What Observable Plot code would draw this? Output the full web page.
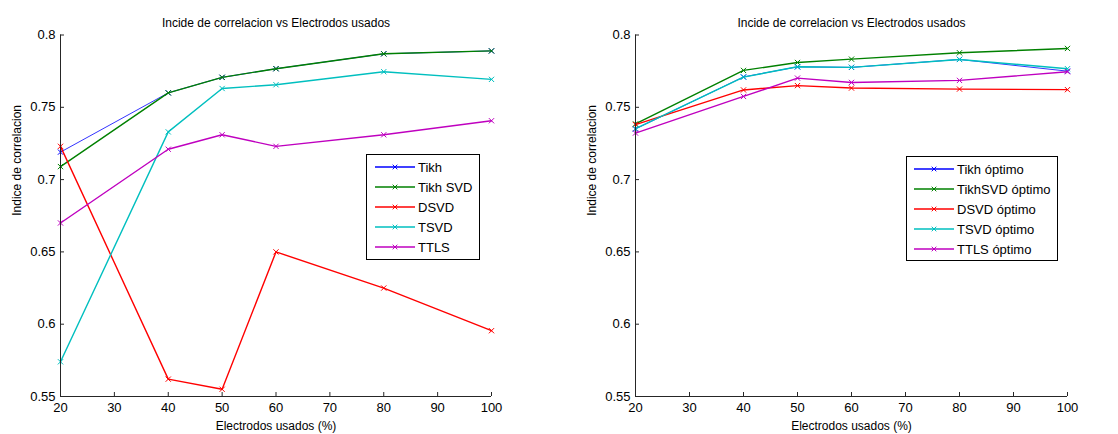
<!DOCTYPE html>
<html><head><meta charset="utf-8">
<script src="https://cdn.jsdelivr.net/npm/d3@7"></script>
<script src="https://cdn.jsdelivr.net/npm/@observablehq/plot@0.6"></script>
<style>
body{margin:0;background:#fff;}
#c{display:flex;width:1118px;height:434px;}
svg{display:block}
</style>
</head><body><div id="c"></div>
<script>
// ---- data ----
const electrodes = [20, 40, 50, 60, 80, 100];
const xTicks = [20, 30, 40, 50, 60, 70, 80, 90, 100];
const yTicks = [0.55, 0.6, 0.65, 0.7, 0.75, 0.8];

const titleText = "Incide de correlacion vs Electrodos usados";
const xLabelText = "Electrodos usados (%)";
const yLabelText = "Indice de correlacion";

// left panel
const leftNames = ["Tikh", "Tikh SVD", "DSVD", "TSVD", "TTLS"];
const tikh    = [0.719, 0.760, 0.7707, 0.7767, 0.787, 0.789];
const tikhSVD = [0.709, 0.760, 0.7707, 0.7767, 0.787, 0.789];
const dsvd    = [0.723, 0.562, 0.555, 0.650, 0.625, 0.5955];
const tsvd    = [0.574, 0.733, 0.763, 0.7656, 0.7746, 0.7693];
const ttls    = [0.670, 0.721, 0.731, 0.723, 0.731, 0.7407];

// right panel
const rightNames = ["Tikh óptimo", "TikhSVD óptimo", "DSVD óptimo", "TSVD óptimo", "TTLS óptimo"];
const tikhOpt    = [0.735, 0.771, 0.778, 0.7776, 0.7831, 0.775];
const tikhSVDOpt = [0.7385, 0.7755, 0.781, 0.7833, 0.7877, 0.7907];
const dsvdOpt    = [0.738, 0.762, 0.765, 0.7633, 0.7626, 0.7622];
const tsvdOpt    = [0.7352, 0.7709, 0.778, 0.7776, 0.7831, 0.7767];
const ttlsOpt    = [0.7322, 0.7575, 0.7702, 0.7672, 0.7686, 0.7746];

const colors = ["#0000ff", "#008000", "#ff0000", "#00bfbf", "#bf00bf"];

function toRows(vals) { return electrodes.map((x, i) => ({x, y: vals[i]})); }

function makePlot(cfg) {
  const W = 559, H = 434, mt = 34.5, mb = 38;
  const ml = cfg.ml, mr = cfg.mr;
  const pw = W - ml - mr, ph = H - mt - mb;
  const axisColor = "#262626";
  const marks = [];
  cfg.series.forEach((vals, i) => {
    const rows = toRows(vals);
    marks.push(Plot.line(rows, {x: "x", y: "y", stroke: colors[i], strokeWidth: i === 0 ? 0.8 : 1.4}));
    marks.push(Plot.dot(rows, {x: "x", y: "y", stroke: colors[i], symbol: "times", r: 2.5, strokeWidth: 1}));
  });
  marks.push(Plot.ruleX([20], {stroke: axisColor}));
  marks.push(Plot.ruleY([0.55], {stroke: axisColor}));
  marks.push(Plot.tickX(xTicks, {x: d => d, insetTop: ph - 4, stroke: axisColor}));
  marks.push(Plot.tickY(yTicks, {y: d => d, insetRight: pw - 4, stroke: axisColor}));
  marks.push(Plot.text([titleText], {frameAnchor: "top", dy: -17, fontSize: 12, fill: "#000"}));
  marks.push(Plot.text([xLabelText], {frameAnchor: "bottom", dy: 33.5, fontSize: 12, fill: "#000"}));
  marks.push(Plot.text([yLabelText], {frameAnchor: "left", dx: cfg.ylx - ml, rotate: -90, fontSize: 12, fill: "#000"}));

  const svg = Plot.plot({
    width: W, height: H,
    marginLeft: ml, marginRight: mr, marginTop: mt, marginBottom: mb,
    x: {domain: [20, 100], ticks: xTicks, tickSize: 0, tickPadding: 6, label: null},
    y: {domain: [0.55, 0.8], ticks: yTicks, tickSize: 0, tickPadding: 5, label: null,
        tickFormat: d => String(+d.toFixed(2))},
    style: {fontFamily: "'Liberation Sans', Arial, sans-serif", fontSize: "13px", color: "#000", background: "#fff", overflow: "visible"},
    marks
  });

  // legend
  const lg = d3.select(svg).append("g").attr("text-anchor", "start");
  const L = cfg.legend;
  lg.append("rect").attr("x", L.x0 + 0.5).attr("y", L.y0 + 0.5)
    .attr("width", L.x1 - L.x0).attr("height", L.y1 - L.y0)
    .attr("fill", "#fff").attr("stroke", "#000").attr("stroke-width", 1);
  cfg.names.forEach((name, i) => {
    const cy = L.ey + i * 20;
    lg.append("line").attr("x1", L.lx0).attr("x2", L.lx1).attr("y1", cy).attr("y2", cy)
      .style("stroke", colors[i]).attr("stroke-width", 1.3);
    lg.append("path").attr("d", d3.symbol(d3.symbolTimes, Math.PI * 5)())
      .attr("transform", `translate(${(L.lx0 + L.lx1) / 2},${cy})`)
      .style("fill", "none").style("stroke", colors[i]).attr("stroke-width", 1);
    lg.append("text").attr("x", L.tx).attr("y", cy).attr("dy", "0.35em")
      .attr("text-anchor", "start")
      .attr("font-size", 13).style("fill", "#000").text(name);
  });
  return svg;
}

const c = document.getElementById("c");
c.appendChild(makePlot({
  ml: 60, mr: 68, ylx: 17,
  series: [tikh, tikhSVD, dsvd, tsvd, ttls],
  names: leftNames,
  legend: {x0: 366, x1: 479, y0: 154, y1: 259, ey: 167, lx0: 375, lx1: 415, tx: 418}
}));
c.appendChild(makePlot({
  ml: 76, mr: 51, ylx: 33,
  series: [tikhOpt, tikhSVDOpt, dsvdOpt, tsvdOpt, ttlsOpt],
  names: rightNames,
  legend: {x0: 347, x1: 498, y0: 156, y1: 260, ey: 169, lx0: 355, lx1: 395, tx: 398}
}));
</script>
</body></html>
